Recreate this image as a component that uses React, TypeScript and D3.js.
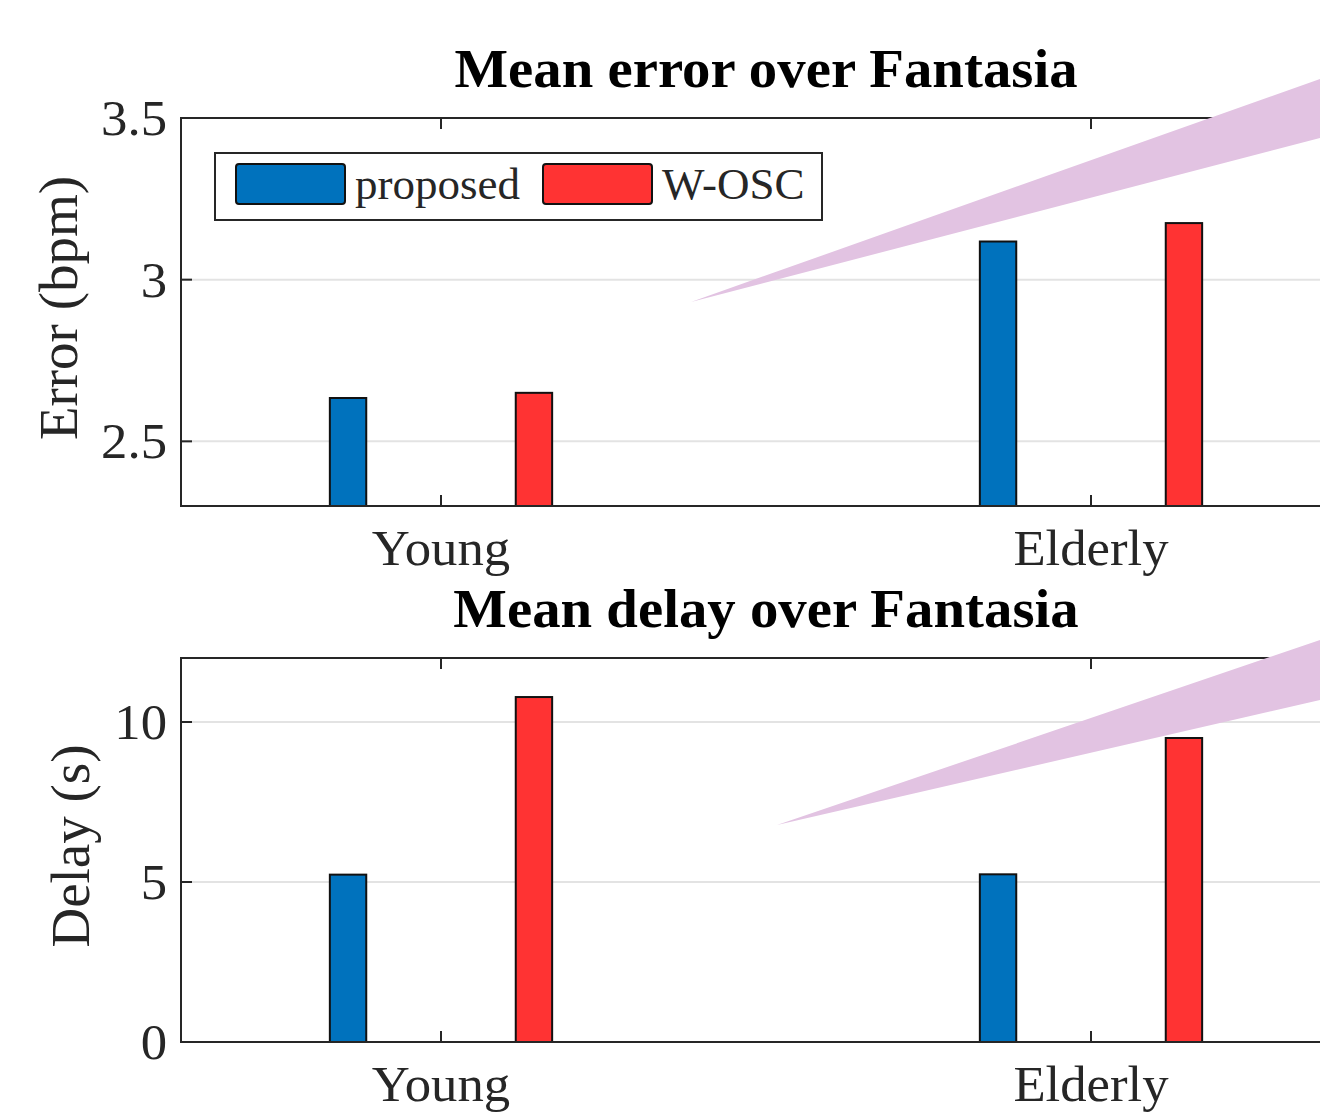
import React from 'react';
import * as d3 from 'd3';

// Category and series data
const categories = ['Young', 'Elderly'];
const seriesNames = ['proposed', 'W-OSC'];
const seriesColors = ['#0072bd', '#ff3333'];

const errorProposed = [2.634, 3.118];
const errorWOSC = [2.65, 3.175];
const errorTicks = [2.5, 3, 3.5];

const delayProposed = [5.23, 5.24];
const delayWOSC = [10.78, 9.5];
const delayTicks = [0, 5, 10];

const FONT = '"Liberation Serif", "Times New Roman", serif';
const AXIS_COLOR = '#262626';
const GRID_COLOR = '#e3e3e3';

// Callout pointers overlaid on the figure (pixel space)
const callouts = [
  [[691, 302], [1320, 79], [1340, 72], [1340, 133], [1320, 138]],
  [[777, 825], [1320, 640], [1340, 633], [1340, 694], [1320, 700]],
];

interface PanelProps {
  title: string;
  yLabel: string;
  top: number;
  bottom: number;
  yDomain: [number, number];
  ticks: number[];
  values: number[][];
  tickFormat: (v: number) => string;
  yLabelX: number;
  showLegend?: boolean;
}

const LEFT = 181;
const RIGHT = 1351;
const x = d3.scaleLinear().domain([0.6, 2.4]).range([LEFT, RIGHT]);
const groupOffsets = [-0.143, 0.143];
const barWidth = 0.056;
const TICK_SX = 1.055;
const TITLE_SX = 1.033;

function Panel({ title, yLabel, top, bottom, yDomain, ticks, values, tickFormat, yLabelX, showLegend }: PanelProps) {
  const y = d3.scaleLinear().domain(yDomain).range([bottom, top]);
  const bw = x(1 + barWidth) - x(1);
  const mid = (LEFT + RIGHT) / 2;
  return (
    <g>
      {/* horizontal grid */}
      {ticks
        .filter((t) => t > yDomain[0] && t < yDomain[1])
        .map((t) => (
          <line key={'g' + t} x1={LEFT} x2={RIGHT} y1={y(t)} y2={y(t)} stroke={GRID_COLOR} strokeWidth={2} />
        ))}
      {/* bars */}
      {values.map((series, si) =>
        series.map((v, ci) => {
          const cx = x(ci + 1 + groupOffsets[si]);
          return (
            <rect
              key={`b${si}-${ci}`}
              x={cx - bw / 2}
              y={y(v)}
              width={bw}
              height={y(yDomain[0]) - y(v)}
              fill={seriesColors[si]}
              stroke="#111"
              strokeWidth={2}
            />
          );
        })
      )}
      {/* axes box */}
      <rect x={LEFT} y={top} width={RIGHT - LEFT} height={bottom - top} fill="none" stroke={AXIS_COLOR} strokeWidth={2} />
      {/* x ticks (bottom and top, inward) */}
      {categories.map((c, i) => (
        <g key={'xt' + c}>
          <line x1={x(i + 1)} x2={x(i + 1)} y1={bottom} y2={bottom - 11} stroke={AXIS_COLOR} strokeWidth={2} />
          <line x1={x(i + 1)} x2={x(i + 1)} y1={top} y2={top + 11} stroke={AXIS_COLOR} strokeWidth={2} />
          <text
            transform={`translate(${x(i + 1)},${bottom + 59}) scale(${TICK_SX},1)`}
            textAnchor="middle"
            fontFamily={FONT}
            fontSize={50}
            fill={AXIS_COLOR}
          >
            {c}
          </text>
        </g>
      ))}
      {/* y ticks */}
      {ticks.map((t) => (
        <g key={'yt' + t}>
          <line x1={LEFT} x2={LEFT + 11} y1={y(t)} y2={y(t)} stroke={AXIS_COLOR} strokeWidth={2} />
          <text
            transform={`translate(167,${y(t) + 17}) scale(${TICK_SX},1)`}
            textAnchor="end"
            fontFamily={FONT}
            fontSize={50}
            fill={AXIS_COLOR}
          >
            {tickFormat(t)}
          </text>
        </g>
      ))}
      {/* y label */}
      <text
        transform={`translate(${yLabelX},${(top + bottom) / 2 - 4}) rotate(-90)`}
        textAnchor="middle"
        fontFamily={FONT}
        fontSize={55}
        fill={AXIS_COLOR}
      >
        {yLabel}
      </text>
      {/* title */}
      <text
        transform={`translate(${mid},${top - 31}) scale(${TITLE_SX},1)`}
        textAnchor="middle"
        fontFamily={FONT}
        fontSize={55}
        fontWeight="bold"
        fill="#000"
      >
        {title}
      </text>
      {showLegend && (
        <g>
          <rect x={215} y={153} width={607} height={67} fill="#fff" stroke={AXIS_COLOR} strokeWidth={2} />
          {seriesNames.map((name, i) => {
            const lx = [236, 543][i];
            return (
              <g key={'lg' + name}>
                <rect x={lx} y={164} width={109} height={40} rx={3} fill={seriesColors[i]} stroke="#111" strokeWidth={2} />
                <text x={lx + 119} y={199} fontFamily={FONT} fontSize={45} fill={AXIS_COLOR}>
                  {name}
                </text>
              </g>
            );
          })}
        </g>
      )}
    </g>
  );
}

export default function App() {
  const fmt = (v: number) => d3.format('~g')(v);
  return (
    <svg
      width={1320}
      height={1117}
      style={{ position: 'absolute', left: 0, top: 0, background: '#fff' }}
    >
      <rect width={1320} height={1117} fill="#fff" />
      <Panel
        title="Mean error over Fantasia"
        yLabel="Error (bpm)"
        top={118}
        bottom={506}
        yDomain={[2.3, 3.5]}
        ticks={errorTicks}
        values={[errorProposed, errorWOSC]}
        tickFormat={fmt}
        yLabelX={77}
        showLegend
      />
      <Panel
        title="Mean delay over Fantasia"
        yLabel="Delay (s)"
        top={658}
        bottom={1042}
        yDomain={[0, 12]}
        ticks={delayTicks}
        values={[delayProposed, delayWOSC]}
        tickFormat={fmt}
        yLabelX={89}
      />
      {callouts.map((pts, i) => (
        <polygon key={'c' + i} points={pts.map((p) => p.join(',')).join(' ')} fill="#e2c3e2" />
      ))}
    </svg>
  );
}
